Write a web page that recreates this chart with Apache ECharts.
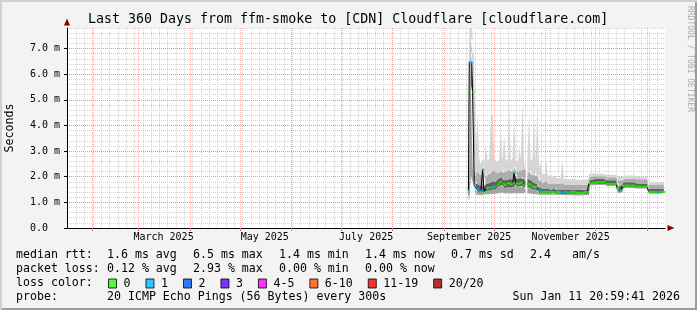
<!DOCTYPE html>
<html><head><meta charset="utf-8">
<script src="https://cdn.jsdelivr.net/npm/echarts@6/dist/echarts.min.js"></script>
<style>
html,body{margin:0;padding:0;background:#f3f3f3}
#c{width:697px;height:310px;background:#f3f3f3;box-shadow:inset 2px 2px 0 #d0d0d0, inset -2px -2px 0 #9c9c9c}
</style></head><body><div id="c"></div>
<script>
// ---- time frame ----
const rangeStart = '2025-01-16T20:59:41+01:00';
const rangeEnd = '2026-01-11T20:59:41+01:00';
const firstDay = [2025, 8, 15]; // daily samples start Sep 15 2025

// ---- axis ticks ----
const monthStarts = ['2025-02-01T00:00:00+01:00','2025-03-01T00:00:00+01:00','2025-04-01T00:00:00+02:00','2025-05-01T00:00:00+02:00',
  '2025-06-01T00:00:00+02:00','2025-07-01T00:00:00+02:00','2025-08-01T00:00:00+02:00','2025-09-01T00:00:00+02:00',
  '2025-10-01T00:00:00+02:00','2025-11-01T00:00:00+01:00','2025-12-01T00:00:00+01:00','2026-01-01T00:00:00+01:00'];
const monthLabels = ['March 2025','May 2025','July 2025','September 2025','November 2025'];
const monthLabelAt = ['2025-03-16T00:00:00+01:00','2025-05-16T00:00:00+02:00','2025-07-16T00:00:00+02:00','2025-09-16T00:00:00+02:00','2025-11-16T00:00:00+01:00'];
const minorFirst = '2025-01-22T12:00:00+01:00';
const minorStepDays = 5;
const yTicks = [0,1,2,3,4,5,6,7];

// ---- data (ms) ----
const median = [
 1.48,6.47,6.45,5.30,1.66,1.55,1.50,1.45,1.45,2.28,
 1.40,1.55,1.56,1.60,1.58,1.62,1.60,1.66,1.72,1.78,
 1.80,1.72,1.68,1.70,1.74,1.72,1.70,1.74,2.15,1.74,
 1.72,1.74,1.76,1.70,1.82,null,1.72,1.70,1.66,1.62,
 1.60,1.58,1.48,1.45,1.42,1.41,1.41,1.41,1.41,1.41,
 1.41,1.41,1.48,1.42,1.41,1.40,1.38,1.38,1.39,1.40,
 1.38,1.41,1.41,1.41,1.41,1.37,1.37,1.37,1.37,1.37,
 1.41,1.41,1.41,1.74,1.74,1.76,1.76,1.78,1.78,1.78,
 1.78,1.78,1.78,1.72,1.72,1.72,1.72,1.72,1.72,1.72,
 1.55,1.45,1.47,1.65,1.65,1.65,1.65,1.65,1.65,1.65,
 1.65,1.61,1.61,1.61,1.61,1.61,1.61,1.61,1.61,1.41,
 1.41,1.41,1.41,1.41,1.41,1.41,1.41,1.41,1.41];
const lossCount = [
 1,1,1,0,1,1,1,1,1,1,
 0,0,0,1,0,0,1,0,0,0,
 0,0,0,0,0,0,0,0,1,0,
 0,0,0,0,0,null,0,0,0,0,
 0,0,1,1,0,0,0,0,0,0,
 0,0,1,0,0,0,1,1,1,0,
 1,0,0,0,0,0,0,0,0,0,
 0,0,0,0,0,0,0,0,0,0,
 0,0,0,0,0,0,0,0,0,0,
 0,1,0,0,0,0,0,0,0,0,
 0,0,0,0,0,0,0,0,0,0,
 0,0,0,0,1,0,0,0,0];
const smokeMin = [
 1.10,2.00,1.80,1.60,1.35,1.30,1.30,1.30,1.28,1.30,
 1.28,1.32,1.32,1.33,1.33,1.33,1.33,1.35,1.35,1.36,
 1.38,1.36,1.35,1.35,1.36,1.36,1.35,1.36,1.38,1.36,
 1.35,1.36,1.36,1.35,1.38,null,1.36,1.35,1.34,1.33,
 1.33,1.32,1.30,1.30,1.30,1.30,1.30,1.30,1.30,1.30,
 1.30,1.30,1.30,1.30,1.30,1.30,1.29,1.30,1.28,1.28,
 1.28,1.28,1.28,1.28,1.28,1.27,1.27,1.27,1.27,1.27,
 1.28,1.28,1.28,1.66,1.66,1.67,1.67,1.68,1.68,1.68,
 1.68,1.68,1.68,1.64,1.64,1.64,1.64,1.64,1.64,1.64,
 1.40,1.35,1.40,1.56,1.56,1.56,1.56,1.56,1.56,1.56,
 1.56,1.54,1.54,1.54,1.54,1.54,1.54,1.54,1.54,1.34,
 1.34,1.34,1.34,1.34,1.34,1.34,1.34,1.34,1.34];
const smokeLow = [
 1.30,5.60,5.20,2.50,1.55,1.45,1.40,1.38,1.38,1.45,
 1.35,1.45,1.46,1.48,1.48,1.50,1.50,1.55,1.60,1.65,
 1.68,1.60,1.56,1.58,1.62,1.60,1.58,1.62,1.70,1.62,
 1.60,1.62,1.64,1.58,1.70,null,1.60,1.58,1.55,1.52,
 1.50,1.48,1.40,1.38,1.36,1.35,1.35,1.35,1.35,1.35,
 1.35,1.35,1.38,1.35,1.35,1.34,1.33,1.33,1.33,1.33,
 1.33,1.34,1.34,1.34,1.34,1.32,1.32,1.32,1.32,1.32,
 1.34,1.34,1.34,1.70,1.70,1.71,1.71,1.72,1.72,1.72,
 1.72,1.72,1.72,1.68,1.68,1.68,1.68,1.68,1.68,1.68,
 1.48,1.40,1.43,1.60,1.60,1.60,1.60,1.60,1.60,1.60,
 1.60,1.57,1.57,1.57,1.57,1.57,1.57,1.57,1.57,1.37,
 1.37,1.37,1.37,1.37,1.37,1.37,1.37,1.37,1.37];
const smokeHigh = [
 1.60,6.90,6.80,5.60,1.85,1.75,1.70,1.65,1.62,2.35,
 1.60,1.72,1.74,1.78,1.78,1.82,1.80,1.85,1.90,1.95,
 2.00,1.90,1.86,1.88,1.92,1.92,1.88,1.95,2.30,1.95,
 1.92,1.95,1.98,1.90,2.00,null,1.92,1.88,1.82,1.78,
 1.75,1.72,1.62,1.58,1.55,1.52,1.52,1.55,1.52,1.50,
 1.50,1.52,1.58,1.50,1.50,1.50,1.50,1.50,1.50,1.50,
 1.50,1.50,1.50,1.50,1.50,1.48,1.48,1.48,1.48,1.48,
 1.50,1.50,1.50,1.88,1.88,1.90,1.90,1.92,1.92,1.92,
 1.92,1.92,1.92,1.86,1.86,1.86,1.86,1.86,1.86,1.86,
 1.72,1.62,1.65,1.78,1.78,1.78,1.78,1.78,1.78,1.78,
 1.78,1.74,1.74,1.74,1.74,1.74,1.74,1.74,1.74,1.52,
 1.52,1.52,1.52,1.52,1.52,1.52,1.52,1.52,1.52];
const smokeP90 = [
 1.80,7.40,7.30,6.50,2.20,2.15,2.20,2.10,2.05,2.45,
 1.95,2.05,2.10,2.15,2.20,2.25,2.20,2.15,2.15,2.20,
 2.30,2.15,2.20,2.20,2.25,2.30,2.20,2.25,2.45,2.20,
 2.20,2.25,2.30,2.30,2.25,null,2.15,2.25,2.10,2.05,
 2.15,2.00,2.10,1.85,1.85,1.75,1.80,1.85,1.75,1.72,
 1.75,1.72,1.75,1.72,1.72,1.72,1.72,1.85,1.70,1.70,
 1.70,1.70,1.70,1.70,1.70,1.68,1.68,1.68,1.68,1.68,
 1.70,1.70,1.70,2.00,2.00,2.02,2.02,2.02,2.02,2.02,
 2.02,2.02,2.02,1.98,1.98,1.98,1.98,1.98,1.98,1.98,
 1.90,1.85,1.85,1.92,1.92,1.92,1.92,1.92,1.92,1.92,
 1.92,1.90,1.90,1.90,1.90,1.90,1.90,1.90,1.90,1.68,
 1.68,1.68,1.68,1.68,1.68,1.68,1.68,1.68,1.68];
const smokeMax = [
 2.00,7.80,7.80,7.60,2.60,3.20,4.45,2.70,2.50,2.70,
 2.50,3.30,2.60,2.70,4.33,4.46,2.70,2.60,2.60,2.70,
 3.88,2.60,3.60,2.70,2.60,4.91,2.60,2.70,4.40,2.60,
 2.60,3.20,2.70,4.94,2.60,null,2.60,4.46,2.60,2.70,
 4.33,2.50,4.91,2.30,2.58,2.10,2.10,2.90,2.10,2.00,
 2.10,2.00,2.05,1.95,1.95,1.95,1.95,2.62,1.90,1.90,
 1.90,1.92,1.90,1.92,1.90,1.88,1.88,1.88,1.88,1.88,
 1.90,1.90,1.90,2.12,2.12,2.14,2.14,2.14,2.12,2.12,
 2.12,2.12,2.12,2.08,2.08,2.08,2.08,2.08,2.08,2.08,
 2.00,2.00,2.00,2.05,2.05,2.05,2.05,2.05,2.05,2.05,
 2.05,2.00,2.00,2.00,2.00,2.00,2.00,2.00,2.00,1.78,
 1.78,1.78,1.78,1.78,1.78,1.78,1.78,1.78,1.78];

// loss classes (legend)
const lossClasses = ['0','1','2','3','4-5','6-10','11-19','20/20'];
const lossRanges = [[0,0],[1,1],[2,2],[3,3],[4,5],[6,10],[11,19],[20,20]];
const lossColors = ['#26ff00','#00b8ff','#0059ff','#5e00ff','#ff00ff','#ff5500','#ff0000','#a00000'];

// ---- text ----
const rttStats = [['median rtt:',16],['1.6 ms avg',107],['6.5 ms max',193],['1.4 ms min',279],['1.4 ms now',365],['0.7 ms sd',451],['2.4',530],['am/s',572]];
const lossStats = [['packet loss:',16],['0.12 % avg',107],['2.93 % max',193],['0.00 % min',279],['0.00 % now',365]];
const probeText = [['probe:',16],['20 ICMP Echo Pings (56 Bytes) every 300s',107]];
const stampText = 'Sun Jan 11 20:59:41 2026';

// ---- build ----
const MONO = 'DejaVu Sans Mono';
const START = Date.parse(rangeStart), END = Date.parse(rangeEnd);
const T = median.map((_, i) => Date.UTC(firstDay[0], firstDay[1], firstDay[2] + i, 12));
const pair = a => a.map((v, i) => [T[i], v]);
const diff = (a, b) => a.map((v, i) => (v == null || b[i] == null) ? null : +(v - b[i]).toFixed(3));
const monthTicks = monthStarts.map(Date.parse);
const labelTicks = monthLabelAt.map(Date.parse);
const minorTicks = [];
for (let t = Date.parse(minorFirst); t < END; t += minorStepDays * 86400000) minorTicks.push(t);

const bands = [
  {name:'sMin', data: smokeMin, color: null},
  {name:'b1', data: diff(smokeLow, smokeMin), color:'#a4a4a4'},
  {name:'b2', data: diff(smokeHigh, smokeLow), color:'#606060'},
  {name:'b3', data: diff(smokeP90, smokeHigh), color:'#adadad'},
  {name:'b4', data: diff(smokeMax, smokeP90), color:'#d5d5d5'}
];
const series = bands.map(b => ({
  type:'line', name:b.name, stack:'smoke', step:'middle', symbol:'none',
  data: pair(b.data), lineStyle:{width:0, opacity:0},
  areaStyle: b.color ? {color:b.color, opacity:1} : undefined,
  silent:true, z:2
}));
series.push({type:'line', name:'median', data: pair(median), step:'middle', symbol:'none',
  lineStyle:{color:'#000', width:1}, silent:true, z:3});
lossClasses.forEach((c, k) => {
  const [lo, hi] = lossRanges[k];
  const pts = [];
  median.forEach((v, i) => { const l = lossCount[i]; if (v != null && l != null && l >= lo && l <= hi) pts.push([T[i], v]); });
  series.push({type:'scatter', name:c, data:pts, symbol:'rect', symbolSize:[2.2,2],
    itemStyle:{color:lossColors[k]}, silent:true, z:4});
});

const txt = (text, x, y, extra) => Object.assign({type:'text', x, y, silent:true,
  style:Object.assign({text, font:'11.6px "'+MONO+'"', fill:'#000', textAlign:'left', textVerticalAlign:'middle'}, extra||{})});
const graphics = [];
rttStats.forEach(([t, x]) => graphics.push(txt(t, x, 254.5)));
lossStats.forEach(([t, x]) => graphics.push(txt(t, x, 268.5)));
graphics.push(txt('loss color:', 16, 282.5));
probeText.forEach(([t, x]) => graphics.push(txt(t, x, 296.5)));
graphics.push(txt(stampText, 680, 296.5, {textAlign:'right'}));
graphics.push(Object.assign(txt('Seconds', 10, 128, {textAlign:'center'}), {rotation: Math.PI/2}));
graphics.push(Object.assign(txt('RRDTOOL / TOBI OETIKER', 690, 59, {textAlign:'center', font:'8px "'+MONO+'"', fill:'#aaaaaa'}), {rotation: -Math.PI/2}));

const chart = echarts.init(document.getElementById('c'), null, {renderer:'canvas'});
chart.setOption({
  animation:false,
  backgroundColor:'transparent',
  title:{text:'Last 360 Days from ffm-smoke to [CDN] Cloudflare [cloudflare.com]', left:88, top:13.5, padding:0,
    textStyle:{fontFamily:MONO, fontSize:13.3, fontWeight:'normal', color:'#000'}},
  grid:{left:67, top:28, width:598, height:200, show:true, backgroundColor:'#ffffff', borderWidth:0, containLabel:false},
  legend:{data:lossClasses, left:108, top:277.5, padding:0, orient:'horizontal', icon:'rect', itemWidth:8, itemHeight:9, itemGap:15,
    selectedMode:false, itemStyle:{borderColor:'#000', borderWidth:1},
    textStyle:{fontFamily:MONO, fontSize:11.6, color:'#000', padding:[0,0,0,2]}},
  xAxis:[{
    type:'time', min:START, max:END, show:false
  },{
    type:'value', min:START, max:END, position:'bottom', z:1, scale:true,
    axisLine:{show:true, onZero:false, lineStyle:{color:'#000', width:1}},
    axisTick:{show:true, customValues:monthTicks, length:3, lineStyle:{color:'#e07070'}},
    axisLabel:{customValues:labelTicks, hideOverlap:false, margin:4, fontFamily:MONO, fontSize:10, color:'#000',
      formatter:(v)=>{ let best=0; labelTicks.forEach((t,i)=>{ if (Math.abs(t-v) < Math.abs(labelTicks[best]-v)) best=i; }); return monthLabels[best]; }},
    splitLine:{show:true, lineStyle:{color:'rgba(240,80,80,0.45)', width:1, type:[1,1]}}
  },{
    type:'value', min:START, max:END, position:'bottom', z:0, scale:true,
    axisLine:{show:true, onZero:false, symbol:['none','triangle'], symbolSize:[6,7], symbolOffset:[0,6], lineStyle:{color:'#8b0000', width:0}},
    axisTick:{show:false, customValues:minorTicks},
    axisLabel:{show:false},
    splitLine:{show:true, lineStyle:{color:'#d2d2d2', width:1, type:[1,1]}}
  }],
  yAxis:[{
    type:'value', min:0, max:7.8, position:'left', z:1,
    axisLine:{show:true, onZero:false, lineStyle:{color:'#000', width:1}},
    axisTick:{show:true, customValues:yTicks, length:3, lineStyle:{color:'#000'}},
    axisLabel:{customValues:yTicks, margin:7, fontFamily:MONO, fontSize:10, color:'#000',
      formatter:(v)=> v === 0 ? '0.0  ' : v.toFixed(1) + ' m'},
    splitLine:{show:true, lineStyle:{color:'rgba(240,80,80,0.45)', width:1, type:[1,1]}}
  },{
    type:'value', min:0, max:7.8, interval:0.2, position:'left', z:0,
    axisLine:{show:true, onZero:false, symbol:['none','triangle'], symbolSize:[6,7], symbolOffset:[0,6], lineStyle:{color:'#8b0000', width:0}},
    axisTick:{show:false}, axisLabel:{show:false},
    splitLine:{show:true, lineStyle:{color:'#d2d2d2', width:1, type:[1,1]}}
  }],
  graphic:graphics,
  series:series
});
</script></body></html>
